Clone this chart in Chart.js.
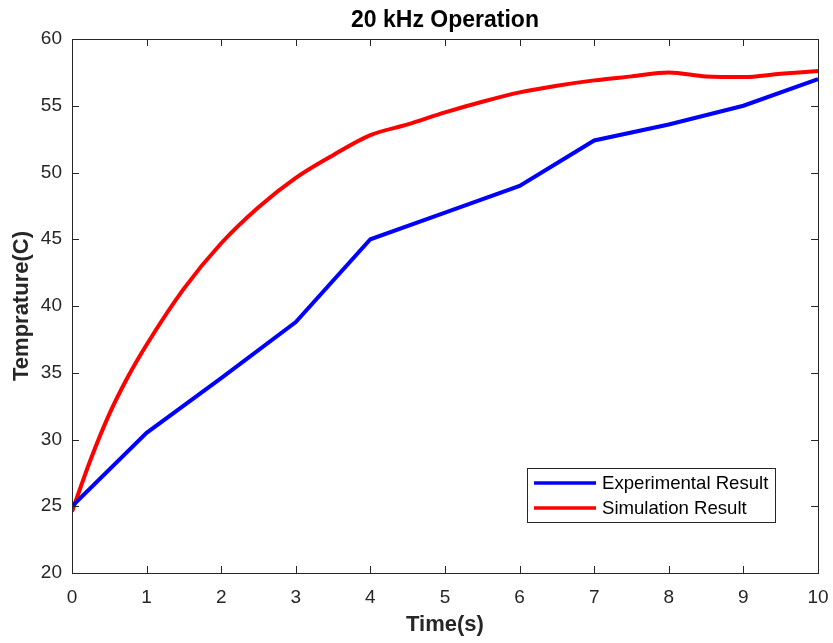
<!DOCTYPE html>
<html>
<head>
<meta charset="utf-8">
<script src="https://cdn.jsdelivr.net/npm/chart.js@4.4.0/dist/chart.umd.min.js"></script>
<style>
    html, body { margin: 0; padding: 0; background: #fff; }
    #wrap { width: 833px; height: 643px; }
</style>
</head>
<body>
<div id="wrap"><canvas id="tempChart" width="833" height="643"></canvas></div>
<script>
// Experimental readings, one per second
const timeExp = [0, 1, 2, 3, 4, 5, 6, 7, 8, 9, 10];
const tempExp = [25.0, 30.5, 34.6, 38.8, 45.0, 47.0, 49.0, 52.4, 53.6, 55.0, 57.0];

// Simulation curve, read every half second (quarters near the start)
const timeSim = [0, 0.25, 0.5, 0.75, 1, 1.5, 2, 2.5, 3, 3.5, 4, 4.5, 5, 5.5, 6, 6.5, 7, 7.5, 8, 8.5, 9, 9.5, 10];
const tempSim = [24.6, 28.5, 31.9, 34.7, 37.1, 41.3, 44.7, 47.4, 49.6, 51.3, 52.8, 53.6, 54.5, 55.3, 56.0, 56.5, 56.9, 57.2, 57.5, 57.2, 57.15, 57.4, 57.6];

const xTicks = [0, 1, 2, 3, 4, 5, 6, 7, 8, 9, 10];
const yTicks = [20, 25, 30, 35, 40, 45, 50, 55, 60];

const titleText = '20 kHz Operation';
const seriesNames = ['Experimental Result', 'Simulation Result'];

const FONT = '"Liberation Sans", Arial, Helvetica, sans-serif';
const AXIS_COLOR = '#262626';

function toPoints(xs, ys) {
    return xs.map((x, i) => ({ x: x, y: ys[i] }));
}

// Box, inward ticks, title and the legend inside the axes
const matlabAxes = {
    id: 'matlabAxes',
    afterDatasetsDraw(chart) {
        const { ctx, chartArea: a, scales } = chart;
        const tl = 7;
        ctx.save();
        ctx.strokeStyle = AXIS_COLOR;
        ctx.lineWidth = 1;
        ctx.beginPath();
        xTicks.forEach(v => {
            const px = Math.round(scales.x.getPixelForValue(v)) + 0.5;
            ctx.moveTo(px, a.bottom); ctx.lineTo(px, a.bottom - tl);
            ctx.moveTo(px, a.top); ctx.lineTo(px, a.top + tl);
        });
        yTicks.forEach(v => {
            const py = Math.round(scales.y.getPixelForValue(v)) + 0.5;
            ctx.moveTo(a.left, py); ctx.lineTo(a.left + tl, py);
            ctx.moveTo(a.right, py); ctx.lineTo(a.right - tl, py);
        });
        ctx.stroke();
        ctx.strokeRect(Math.round(a.left) + 0.5, Math.round(a.top) + 0.5,
            Math.round(a.right - a.left), Math.round(a.bottom - a.top));

        // title
        ctx.fillStyle = '#000';
        ctx.font = 'bold 23px ' + FONT;
        ctx.textAlign = 'center';
        ctx.textBaseline = 'middle';
        ctx.fillText(titleText, (a.left + a.right) / 2, 21);

        // legend
        const bx = a.right - 291, by = a.bottom - 105, bw = 248, bh = 54;
        ctx.fillStyle = '#fff';
        ctx.fillRect(bx, by, bw, bh);
        ctx.strokeStyle = AXIS_COLOR;
        ctx.strokeRect(Math.round(bx) + 0.5, Math.round(by) + 0.5, bw, bh);
        ctx.font = '18.6px ' + FONT;
        ctx.textAlign = 'left';
        chart.data.datasets.forEach((ds, i) => {
            const ly = by + 15 + i * 25;
            ctx.strokeStyle = ds.borderColor;
            ctx.lineWidth = 3.5;
            ctx.beginPath();
            ctx.moveTo(bx + 7, ly);
            ctx.lineTo(bx + 69, ly);
            ctx.stroke();
            ctx.fillStyle = '#000';
            ctx.fillText(ds.label, bx + 75, ly + 1);
        });
        ctx.restore();
    }
};

const ctx = document.getElementById('tempChart').getContext('2d');

new Chart(ctx, {
    type: 'scatter',
    data: {
        datasets: [
            {
                label: seriesNames[0],
                data: toPoints(timeExp, tempExp),
                borderColor: '#0000ff',
                backgroundColor: '#0000ff',
                showLine: true,
                borderWidth: 4,
                pointRadius: 0,
                tension: 0
            },
            {
                label: seriesNames[1],
                data: toPoints(timeSim, tempSim),
                borderColor: '#ff0000',
                backgroundColor: '#ff0000',
                showLine: true,
                borderWidth: 4,
                pointRadius: 0,
                cubicInterpolationMode: 'monotone'
            }
        ]
    },
    options: {
        responsive: false,
        animation: false,
        layout: { padding: { top: 39, right: 15, left: 0, bottom: 0 } },
        plugins: {
            legend: { display: false },
            title: { display: false },
            tooltip: { enabled: false }
        },
        scales: {
            x: {
                type: 'linear',
                min: 0,
                max: 10,
                afterBuildTicks: s => { s.ticks = xTicks.map(v => ({ value: v })); },
                afterFit: s => { s.height = 70; s.paddingLeft = 0; s.paddingRight = 0; },
                grid: { display: false, drawTicks: false },
                border: { display: false },
                ticks: {
                    padding: 13,
                    color: AXIS_COLOR,
                    font: { family: FONT, size: 19 }
                },
                title: {
                    display: true,
                    text: 'Time(s)',
                    color: AXIS_COLOR,
                    font: { family: FONT, size: 22, weight: 'bold' },
                    padding: { top: 0, bottom: 5 }
                }
            },
            y: {
                type: 'linear',
                min: 20,
                max: 60,
                afterBuildTicks: s => { s.ticks = yTicks.map(v => ({ value: v })); },
                afterFit: s => { s.width = 72; },
                grid: { display: false, drawTicks: false },
                border: { display: false },
                ticks: {
                    padding: 10,
                    color: AXIS_COLOR,
                    font: { family: FONT, size: 19 }
                },
                title: {
                    display: true,
                    text: 'Temprature(C)',
                    color: AXIS_COLOR,
                    font: { family: FONT, size: 22, weight: 'bold' },
                    padding: { top: 9, bottom: 0 }
                }
            }
        }
    },
    plugins: [matlabAxes]
});
</script>
</body>
</html>
